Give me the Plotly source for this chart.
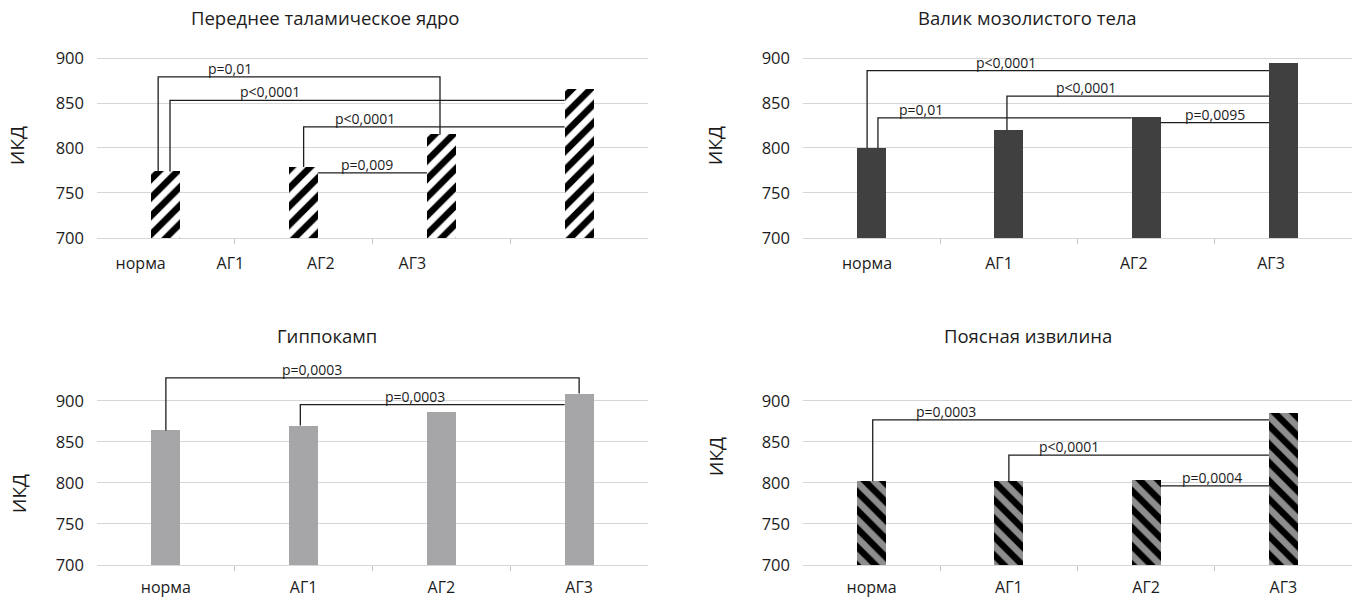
import plotly.graph_objects as go

# ---------------- data ----------------
categories = ["норма", "АГ1", "АГ2", "АГ3"]

thal_values = [774, 779, 815, 865]
splen_values = [800, 820, 834, 894]
hippo_values = [864, 870, 886, 909]
cing_values = [802, 802, 803, 885]

titles = ["Переднее таламическое ядро", "Валик мозолистого тела",
          "Гиппокамп", "Поясная извилина"]
y_title = "ИКД"
y_ticks = [700, 750, 800, 850, 900]

# significance brackets: groups a-b, bracket level (ИКД), p label
thal_brackets = [
    dict(a=0, b=2, level=879, p="p=0,01", kind="drop", adx=-0.056, bdx=-0.01, lx=0.465),
    dict(a=0, b=3, level=853, p="p<0,0001", kind="edge", adx=0.03, lx=0.754),
    dict(a=1, b=3, level=823.5, p="p<0,0001", kind="edge", adx=0.0, lx=1.446),
    dict(a=1, b=2, level=772.4, p="p=0,009", kind="between", lx=1.462),
]
splen_brackets = [
    dict(a=0, b=3, level=886, p="p<0,0001", kind="edge", adx=-0.033, lx=0.98),
    dict(a=1, b=3, level=857.7, p="p<0,0001", kind="edge", adx=-0.014, lx=1.56),
    dict(a=0, b=2, level=833.5, p="p=0,01", kind="edge", adx=0.046, lx=0.357),
    dict(a=2, b=3, level=828.3, p="p=0,0095", kind="between", lx=2.5),
]
hippo_brackets = [
    dict(a=0, b=3, level=928, p="p=0,0003", kind="drop", adx=0.0, bdx=0.0, lx=1.062),
    dict(a=1, b=3, level=895.5, p="p=0,0003", kind="edge", adx=-0.024, lx=1.811),
]
cing_brackets = [
    dict(a=0, b=3, level=877, p="p=0,0003", kind="edge", adx=0.008, lx=0.541),
    dict(a=1, b=3, level=834, p="p<0,0001", kind="edge", adx=0.0, lx=1.437),
    dict(a=2, b=3, level=796.5, p="p=0,0004", kind="between", lx=2.478),
]

# ---------------- styling / layout ----------------
FONT = "Open Sans"
TXT = "#1c1c1c"
GRID = "#d6d6d6"
BAR_W = 0.21
HALF = BAR_W / 2

panels = [
    dict(values=thal_values, brackets=thal_brackets,
         marker=dict(color="white", line=dict(width=0),
                     pattern=dict(shape="/", fgcolor="#000000", bgcolor="#ffffff",
                                  fgopacity=1, size=13, solidity=0.5)),
         xdom=[97 / 1353, 648 / 1353], ydom=[0.6027, 0.9482], yr=[700, 930],
         labelpos=[-0.183, 0.468, 1.125, 1.789], standoff=11,
         title_xy=(325 / 1353, 1 - 18 / 599), ytitle_xy=(17 / 1353, 1 - 146 / 599)),
    dict(values=splen_values, brackets=splen_brackets,
         marker=dict(color="#404040", line=dict(width=0)),
         xdom=[803 / 1353, 1352 / 1353], ydom=[0.6027, 0.9482], yr=[700, 930],
         labelpos=[-0.034, 0.928, 1.91, 2.91], standoff=11,
         title_xy=(1027 / 1353, 1 - 18 / 599), ytitle_xy=(715 / 1353, 1 - 146 / 599)),
    dict(values=hippo_values, brackets=hippo_brackets,
         marker=dict(color="#a6a6a8", line=dict(width=0)),
         xdom=[97 / 1353, 648 / 1353], ydom=[0.0568, 0.3923], yr=[700, 945],
         labelpos=[0, 1, 2, 3], standoff=8,
         title_xy=(327 / 1353, 1 - 335 / 599), ytitle_xy=(19 / 1353, 1 - 494 / 599)),
    dict(values=cing_values, brackets=cing_brackets,
         marker=dict(color="#8e8e8e", line=dict(width=0),
                     pattern=dict(shape="\\", fgcolor="#000000", bgcolor="#8e8e8e",
                                  fgopacity=1, size=13, solidity=0.5)),
         xdom=[803 / 1353, 1352 / 1353], ydom=[0.0568, 0.3923], yr=[700, 945],
         labelpos=[0, 1, 2, 3], standoff=8,
         title_xy=(1028 / 1353, 1 - 335 / 599), ytitle_xy=(716 / 1353, 1 - 457 / 599)),
]

fig = go.Figure()
shapes = []
annotations = []
positions = list(range(len(categories)))

for k, pn in enumerate(panels, start=1):
    xa = "x" if k == 1 else f"x{k}"
    ya = "y" if k == 1 else f"y{k}"
    vals = pn["values"]
    fig.add_trace(go.Bar(x=positions, y=vals, width=BAR_W, marker=pn["marker"],
                         xaxis=xa, yaxis=ya, showlegend=False, hoverinfo="x+y"))

    xkey = "xaxis" if k == 1 else f"xaxis{k}"
    ykey = "yaxis" if k == 1 else f"yaxis{k}"
    fig.update_layout(**{
        xkey: dict(domain=pn["xdom"], anchor=ya, range=[-0.5, 3.5],
                   tickmode="array", tickvals=pn["labelpos"], ticktext=categories,
                   ticks="", showgrid=False, zeroline=False,
                   showline=True, linecolor=GRID, linewidth=1,
                   ticklabelstandoff=pn["standoff"], automargin=False,
                   tickfont=dict(family=FONT, size=16, color=TXT),
                   minor=dict(tickmode="array", tickvals=[0.5, 1.5, 2.5],
                              ticks="outside", ticklen=5, tickwidth=1,
                              tickcolor="#c4c4c4", showgrid=False),
                   fixedrange=True),
        ykey: dict(domain=pn["ydom"], anchor=xa, range=pn["yr"],
                   tickmode="array", tickvals=y_ticks, ticks="",
                   showgrid=True, gridcolor=GRID, gridwidth=1,
                   zeroline=False, showline=False,
                   ticklabelstandoff=12, automargin=False,
                   tickfont=dict(family=FONT, size=16.5, color=TXT),
                   fixedrange=True),
    })

    # brackets
    for br in pn["brackets"]:
        a, b, lev = br["a"], br["b"], br["level"]
        if br["kind"] == "between":
            pts = [(a + HALF, lev), (b - HALF, lev)]
        else:
            xl = a + br["adx"]
            pts = [(xl, vals[a]), (xl, lev)]
            if br["kind"] == "drop":
                xr = b + br["bdx"]
                pts += [(xr, lev), (xr, vals[b])]
            else:
                pts += [(b - HALF, lev)]
        path = "M " + " L ".join(f"{x},{y}" for x, y in pts)
        shapes.append(dict(type="path", path=path, xref=xa, yref=ya,
                           line=dict(color="#1e1e1e", width=1.3), layer="above"))
        annotations.append(dict(x=br["lx"], y=lev, xref=xa, yref=ya, text=br["p"],
                                showarrow=False, yanchor="bottom", yshift=-3,
                                font=dict(family=FONT, size=14, color=TXT)))

    tx, ty = pn["title_xy"]
    annotations.append(dict(x=tx, y=ty, xref="paper", yref="paper", text=titles[k - 1],
                            showarrow=False, xanchor="center", yanchor="middle",
                            font=dict(family=FONT, size=18.5, color=TXT)))
    yx, yy = pn["ytitle_xy"]
    annotations.append(dict(x=yx, y=yy, xref="paper", yref="paper", text=y_title,
                            textangle=-90, showarrow=False, xanchor="center",
                            yanchor="middle",
                            font=dict(family=FONT, size=19, color=TXT)))

fig.update_layout(
    width=1353, height=599,
    margin=dict(l=0, r=0, t=0, b=0, autoexpand=False),
    paper_bgcolor="white", plot_bgcolor="white",
    shapes=shapes, annotations=annotations,
    bargap=0, showlegend=False,
    font=dict(family=FONT, color=TXT),
)

fig.write_html("out.html", config=dict(displayModeBar=False),
               post_script="document.body.style.margin='0';"
                           "document.body.style.overflow='hidden';")
